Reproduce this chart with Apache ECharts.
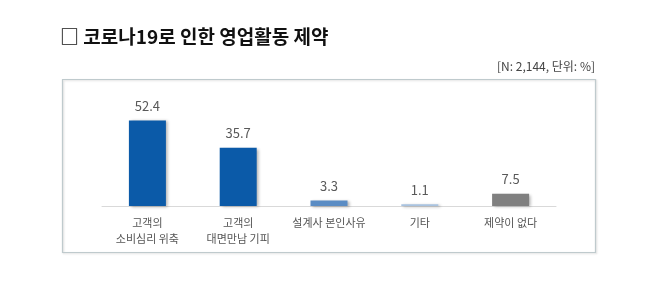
<!DOCTYPE html>
<html><head><meta charset="utf-8">
<script src="https://cdn.jsdelivr.net/npm/echarts@6/dist/echarts.min.js"></script>
<style>html,body{margin:0;padding:0;background:#fff}#c{width:658px;height:300px}</style>
</head><body><div id="c"></div>
<script>
var titleText = '□ 코로나19로 인한 영업활동 제약';
var noteText = '[N: 2,144, 단위: %]';
var categories = ['고객의\n소비심리 위축', '고객의\n대면만남 기피', '설계사 본인사유', '기타', '제약이 없다'];
var values = [52.4, 35.7, 3.3, 1.1, 7.5];
var barColors = ['#0b5aa8', '#0b5aa8', '#5a8cc4', '#a9c3e0', '#808080'];
var FONT = '"Noto Sans CJK KR", "Noto Sans", sans-serif';

var chart = echarts.init(document.getElementById('c'), null, {renderer: 'canvas'});
chart.setOption({
  backgroundColor: '#fff',
  animation: false,
  graphic: [
    {type: 'text', left: 60, top: 27, style: {text: titleText, font: 'bold 19px ' + FONT, fill: '#111', letterSpacing: 0.6}},
    {type: 'text', right: 63, top: 60, style: {text: noteText, font: '12px ' + FONT, fill: '#444'}},
    {type: 'rect', shape: {x: 62.5, y: 79.5, width: 533, height: 173}, style: {fill: 'none', stroke: '#bfcacd', lineWidth: 1.2, shadowColor: 'rgba(0,0,0,0.15)', shadowBlur: 2, shadowOffsetX: 1, shadowOffsetY: 1}, z: -1}
  ],
  grid: {left: 102, right: 102, top: 108, bottom: 94},
  xAxis: {
    type: 'category', data: categories,
    axisLine: {lineStyle: {color: '#d9d9d9', width: 1}},
    axisTick: {show: false},
    axisLabel: {color: '#555', fontFamily: FONT, fontSize: 11, lineHeight: 16, margin: 9, interval: 0}
  },
  yAxis: {type: 'value', min: 0, max: 60, show: false, splitLine: {show: false}},
  series: [{
    type: 'bar', barWidth: 37,
    data: values.map(function (v, i) {
      return {value: v, itemStyle: {color: barColors[i]}};
    }),
    itemStyle: {shadowColor: 'rgba(0,0,0,0.3)', shadowBlur: 3, shadowOffsetX: 2, shadowOffsetY: 1},
    label: {show: true, position: 'top', distance: 8, color: '#595959', fontFamily: FONT, fontSize: 13,
      formatter: function (p) { return p.value.toFixed(1); }}
  }]
});
</script></body></html>
